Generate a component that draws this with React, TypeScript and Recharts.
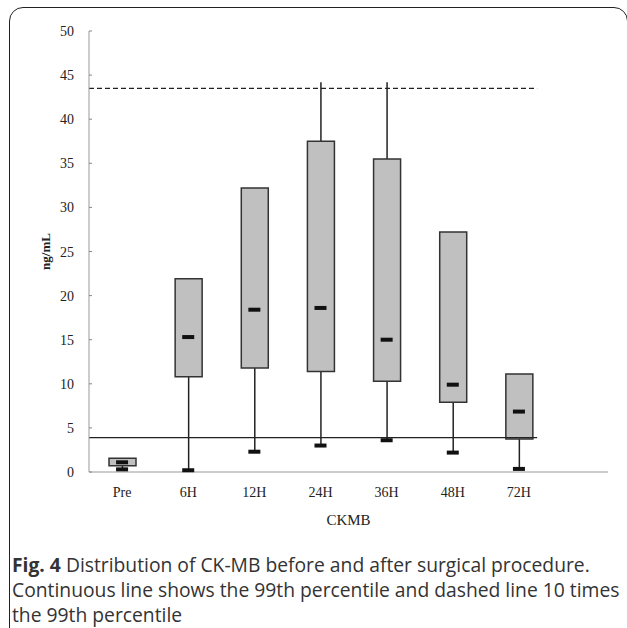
import React from 'react';
import {
  ComposedChart,
  Bar,
  Line,
  XAxis,
  YAxis,
  ReferenceLine,
  Label,
} from 'recharts';

// CK-MB box plot (ng/mL)
const categories = ['Pre', '6H', '12H', '24H', '36H', '48H', '72H'];
const minValues = [0.3, 0.2, 2.3, 3.0, 3.6, 2.2, 0.35];
const q1Values = [0.7, 10.8, 11.8, 11.4, 10.3, 7.9, 3.75];
const medianValues = [1.1, 15.3, 18.4, 18.6, 15.0, 9.9, 6.85];
const q3Values = [1.55, 21.9, 32.2, 37.5, 35.5, 27.2, 11.1];
const maxValues: (number | null)[] = [null, null, null, 44.2, 44.2, null, null];
const yTicks = [0, 5, 10, 15, 20, 25, 30, 35, 40, 45, 50];

const limit99 = 3.9; // 99th percentile
const limit10x = 43.5; // 10 x 99th percentile
const limitEnd = 6.27; // both limit lines stop just past 72H
const numDomain = [-0.5, 7.34];

const data = categories.map((cat, i) => ({
  cat,
  idx: i,
  box: [q1Values[i], q3Values[i]],
  lower: [minValues[i], q1Values[i]],
  upper: maxValues[i] == null ? null : [q3Values[i], maxValues[i]],
  median: medianValues[i],
  min: minValues[i],
}));

const serif = "'Liberation Serif', 'Times New Roman', serif";
const catPadding = { left: 0, right: 56 };

const WhiskerShape = (props: any) => {
  const { x, y, width, height } = props;
  if (height == null || isNaN(y)) return null;
  const cx = x + width / 2;
  return <line x1={cx} y1={y} x2={cx} y2={y + height} stroke="#222" strokeWidth={1.5} />;
};

const Dash = (props: any) => {
  const { cx, cy } = props;
  if (cx == null || cy == null) return null;
  return <rect x={cx - 6} y={cy - 2} width={12} height={4} fill="#111" />;
};

const YTick = (props: any) => {
  const { x, y, payload } = props;
  return (
    <g>
      <line x1={x + 15} y1={y} x2={x + 18} y2={y} stroke="#888" strokeWidth={1} />
      <text x={x} y={y} dy={5} textAnchor="end" fill="#222" fontSize={14} fontFamily={serif}>
        {payload.value}
      </text>
    </g>
  );
};

export default function App() {
  return (
    <div
      style={{
        position: 'absolute',
        left: 0,
        top: 0,
        width: 627,
        height: 628,
        overflow: 'hidden',
        background: '#fff',
      }}
    >
      <div
        style={{
          position: 'absolute',
          left: 9,
          top: 7,
          width: 619,
          height: 700,
          border: '1.5px solid #222',
          borderRadius: 14,
          boxSizing: 'border-box',
        }}
      />
      <div style={{ position: 'absolute', left: 0, top: 0 }}>
        <ComposedChart
          width={627}
          height={545}
          data={data}
          margin={{ top: 31, right: 19, bottom: 43, left: 39 }}
        >
          <XAxis
            xAxisId="main"
            dataKey="cat"
            padding={catPadding}
            height={30}
            stroke="#999"
            tickLine={false}
            tickSize={0}
            tickMargin={15}
            tick={{ fill: '#222', fontSize: 14, fontFamily: serif }}
          >
            <Label
              value="CKMB"
              position="bottom"
              offset={12}
              style={{ fill: '#222', fontSize: 15, fontFamily: serif }}
            />
          </XAxis>
          <XAxis xAxisId="lower" dataKey="cat" padding={catPadding} height={0} hide />
          <XAxis xAxisId="upper" dataKey="cat" padding={catPadding} height={0} hide />
          <XAxis
            xAxisId="num"
            dataKey="idx"
            type="number"
            domain={numDomain}
            allowDataOverflow
            height={0}
            hide
          />
          <YAxis
            width={50}
            domain={[0, 50]}
            ticks={yTicks}
            interval={0}
            stroke="#999"
            tickLine={false}
            tickSize={0}
            tickMargin={15}
            tick={<YTick />}
          >
            <Label
              value="ng/mL"
              angle={-90}
              position="insideLeft"
              offset={6}
              style={{
                fill: '#222',
                fontSize: 13,
                fontWeight: 'bold',
                fontFamily: serif,
                textAnchor: 'middle',
              }}
            />
          </YAxis>
          <ReferenceLine
            xAxisId="num"
            ifOverflow="visible"
            segment={[
              { x: numDomain[0], y: limit10x },
              { x: limitEnd, y: limit10x },
            ]}
            stroke="#222"
            strokeWidth={1.2}
            strokeDasharray="5 3"
          />
          <Bar
            xAxisId="lower"
            dataKey="lower"
            barSize={27}
            shape={<WhiskerShape />}
            isAnimationActive={false}
          />
          <Bar
            xAxisId="upper"
            dataKey="upper"
            barSize={27}
            shape={<WhiskerShape />}
            isAnimationActive={false}
          />
          <Bar
            xAxisId="main"
            dataKey="box"
            barSize={27}
            fill="#c0c0c0"
            stroke="#333"
            strokeWidth={1.5}
            isAnimationActive={false}
          />
          <ReferenceLine
            xAxisId="num"
            ifOverflow="visible"
            segment={[
              { x: numDomain[0], y: limit99 },
              { x: limitEnd, y: limit99 },
            ]}
            stroke="#222"
            strokeWidth={1.2}
          />
          <Line
            xAxisId="main"
            dataKey="median"
            stroke="none"
            dot={<Dash />}
            activeDot={false}
            isAnimationActive={false}
          />
          <Line
            xAxisId="main"
            dataKey="min"
            stroke="none"
            dot={<Dash />}
            activeDot={false}
            isAnimationActive={false}
          />
        </ComposedChart>
      </div>
      <div
        style={{
          position: 'absolute',
          left: 12,
          top: 552,
          width: 620,
          whiteSpace: 'nowrap',
          fontFamily: "'Open Sans', sans-serif",
          fontSize: 19.3,
          lineHeight: '25px',
          color: '#333',
        }}
      >
        <b>Fig. 4</b> Distribution of CK-MB before and after surgical procedure.
        <br />
        Continuous line shows the 99th percentile and dashed line 10 times
        <br />
        the 99th percentile
      </div>
    </div>
  );
}
